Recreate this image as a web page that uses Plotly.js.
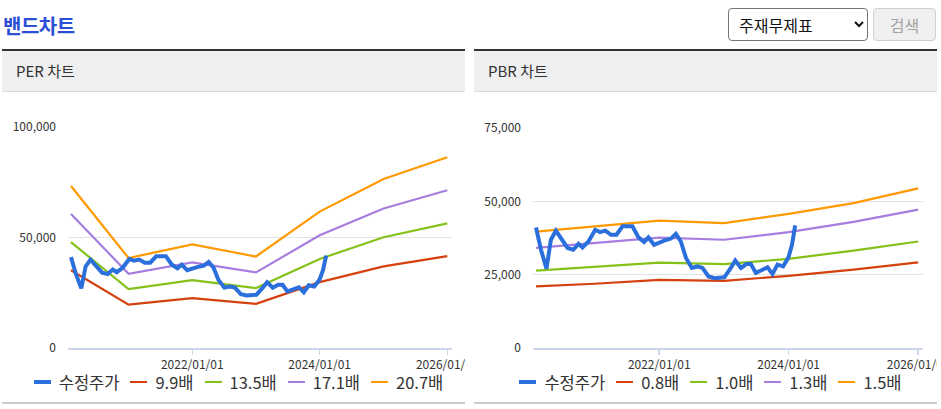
<!DOCTYPE html>
<html><head><meta charset="utf-8">
<script src="https://cdn.plot.ly/plotly-3.0.1.min.js"></script>
<style>
html,body{margin:0;padding:0;background:#fff;width:941px;height:409px;overflow:hidden;font-family:'Noto Sans CJK KR','Noto Sans',sans-serif;}
#title{position:absolute;left:3px;top:13px;font-size:20px;font-weight:bold;color:#2b4fd6;line-height:26px;letter-spacing:-0.5px;}
#sel{position:absolute;left:728px;top:8px;width:140px;height:33px;font-size:16px;font-family:'Noto Sans CJK KR',sans-serif;border:1px solid #767676;border-radius:4px;background:#fff;color:#111;padding-left:6px;box-sizing:border-box;}
#btn{position:absolute;left:873px;top:8px;width:63px;height:33px;font-size:16px;font-family:'Noto Sans CJK KR',sans-serif;border:1px solid #cfcfcf;border-radius:4px;background:#efefef;color:#a3a3a3;box-sizing:border-box;padding:0;}
.panel{position:absolute;top:49px;width:463px;height:355px;border-top:2px solid #333;border-bottom:2px solid #cacaca;box-sizing:border-box;}
.hdr{height:40px;line-height:40px;background:#efefef;border-bottom:1px solid #dcdcdc;padding-left:14px;font-size:15px;color:#333;}
.chart{position:absolute;left:0;top:41px;width:463px;height:309px;}
.legend{position:absolute;left:0;top:323px;width:463px;height:16px;display:flex;justify-content:center;align-items:center;font-size:16.5px;color:#333;line-height:16px;padding-left:10px;box-sizing:border-box;}
.item{display:flex;align-items:center;margin:0 5.5px;white-space:nowrap;height:16px;}
.sym{display:inline-block;width:17px;height:2px;margin-right:8px;}
.sym.thick{height:4px;}
.txt{display:inline-block;height:16px;line-height:16px;overflow:visible;}
</style>
</head><body>
<div id="title">밴드차트</div>
<select id="sel"><option>주재무제표</option></select>
<button id="btn" disabled>검색</button>

<div class="panel" style="left:2px;">
  <div class="hdr">PER 차트</div>
  <div class="chart" id="per"></div>
  <div class="legend" id="perLegend"></div>
</div>
<div class="panel" style="left:474px;">
  <div class="hdr">PBR 차트</div>
  <div class="chart" id="pbr"></div>
  <div class="legend" id="pbrLegend"></div>
</div>

<script>
// ---- data ----
const priceName = '수정주가';
const priceDates = ['2020-02-06','2020-03-05','2020-04-05','2020-04-30','2020-05-28','2020-06-25','2020-08-02','2020-09-03','2020-10-03','2020-10-25','2020-11-28','2021-01-05','2021-02-01','2021-03-03','2021-04-04','2021-05-05','2021-06-08','2021-08-03','2021-09-06','2021-10-08','2021-11-01','2021-12-03','2022-01-01','2022-01-29','2022-03-08','2022-04-05','2022-05-03','2022-06-01','2022-07-04','2022-08-05','2022-09-02','2022-10-06','2022-11-10','2022-12-15','2023-01-03','2023-02-09','2023-03-06','2023-04-07','2023-05-08','2023-06-02','2023-06-30','2023-07-29','2023-09-04','2023-10-02','2023-10-30','2023-12-01','2023-12-31','2024-01-20','2024-02-07'];
const priceValues = [41100,33500,27000,36900,40000,37500,34100,33500,35500,34300,36300,40300,39500,40000,38600,38600,41500,41500,37700,36100,37700,35200,36100,36600,37300,38900,36300,30700,27300,27800,27300,24400,23800,23900,24100,27300,29800,27300,28600,28600,25600,26400,27500,25200,28400,27800,30900,35200,41800];

const bandDates = ['2020-02-06','2021-01-01','2022-01-01','2023-01-01','2024-01-01','2025-01-01','2026-01-01'];

const perNames = ['9.9배','13.5배','17.1배','20.7배'];
const per99  = [35200,19600,22600,20000,29800,36900,41600];
const per135 = [47900,26600,30700,27100,40300,50100,56400];
const per171 = [60600,33600,38700,34200,51000,63100,71400];
const per207 = [73300,40700,46900,41400,61700,76500,86300];

const pbrNames = ['0.8배','1.0배','1.3배','1.5배'];
const pbr08 = [21000,21900,23200,22900,24600,26700,29200];
const pbr10 = [26400,27600,29100,28600,30400,33200,36300];
const pbr13 = [34100,35700,37600,36900,39500,43000,47200];
const pbr15 = [39700,41400,43400,42600,45700,49400,54400];

const xTickVals = ['2022-01-01','2024-01-01','2026-01-01'];
const xTickText = ['2022/01/01','2024/01/01','2026/01/01'];
const xRange = ['2020-01-20','2026-01-28'];

// ---- styles ----
const priceColor = '#2a6fdb';
const bandColors = ['#d4400e','#84c21a','#a77ddf','#ff9900'];

function traces(bands, names){
  const t = bands.map((vals,i)=>({
    type:'scatter', mode:'lines', x:bandDates, y:vals, name:names[i],
    line:{color:bandColors[i], width:2.2}, hoverinfo:'skip'
  }));
  t.push({type:'scatter', mode:'lines', x:priceDates, y:priceValues, name:priceName,
    line:{color:priceColor, width:4}, hoverinfo:'skip'});
  return t;
}

function layout(yMax, yDtick, margin){
  return {
    width:463, height:309, margin:margin, showlegend:false,
    paper_bgcolor:'rgba(0,0,0,0)', plot_bgcolor:'rgba(0,0,0,0)',
    font:{family:"'Noto Sans CJK KR', sans-serif", size:12, color:'#333'},
    xaxis:{type:'date', range:xRange, tickmode:'array', tickvals:xTickVals, ticktext:xTickText,
      showgrid:false, zeroline:false, showline:true, linecolor:'#ccd6eb', linewidth:2,
      ticks:'outside', ticklen:5, tickwidth:1.5, tickcolor:'#ccd6eb', ticklabeloverflow:'allow',
      tickfont:{size:12, color:'#333'}},
    yaxis:{range:[0,yMax], tick0:0, dtick:yDtick, tickformat:',d', showgrid:true, gridcolor:'#e3e3e3',
      gridwidth:1, zeroline:false, showline:false, ticks:'', ticklabelstandoff:11,
      tickfont:{size:12, color:'#333'}}
  };
}

const cfg = {staticPlot:true, displayModeBar:false};
Plotly.newPlot('per', traces([per99,per135,per171,per207], perNames),
  layout(100000, 50000, {l:66, r:13, t:35, b:53}), cfg);
Plotly.newPlot('pbr', traces([pbr08,pbr10,pbr13,pbr15], pbrNames),
  layout(75000, 25000, {l:59, r:14, t:36, b:53}), cfg);

function legend(id, names){
  const el = document.getElementById(id);
  const items = [{n:priceName, c:priceColor, thick:true}].concat(names.map((n,i)=>({n:n, c:bandColors[i]})));
  items.forEach(it=>{
    const d = document.createElement('div'); d.className='item';
    const s = document.createElement('span'); s.className='sym'+(it.thick?' thick':''); s.style.background=it.c;
    const t = document.createElement('span'); t.className='txt'; t.textContent = it.n;
    d.appendChild(s); d.appendChild(t); el.appendChild(d);
  });
}
legend('perLegend', perNames);
legend('pbrLegend', pbrNames);
</script>
</body></html>
